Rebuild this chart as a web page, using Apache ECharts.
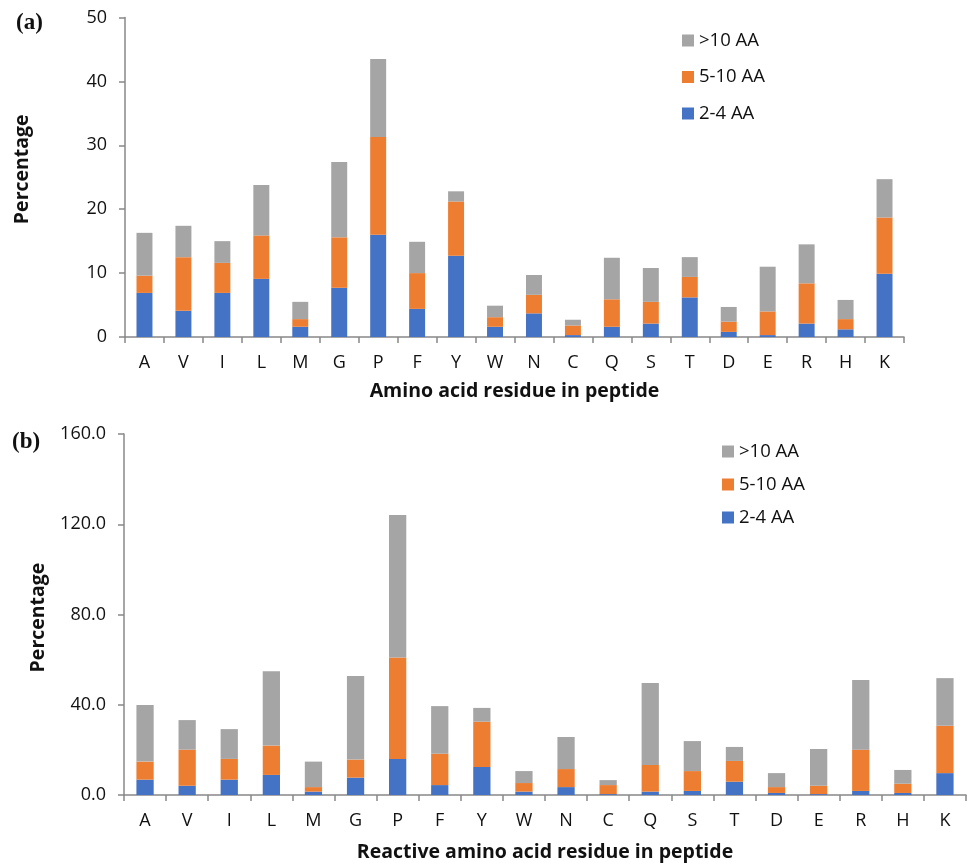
<!DOCTYPE html>
<html>
<head>
<meta charset="utf-8">
<script src="https://cdn.jsdelivr.net/npm/echarts@6/dist/echarts.min.js"></script>
<style>
html,body{margin:0;padding:0;background:#fff;}
#chart{width:969px;height:863px;}
</style>
</head>
<body>
<div id="chart"></div>
<script>
const categories = ['A','V','I','L','M','G','P','F','Y','W','N','C','Q','S','T','D','E','R','H','K'];
const seriesNames = ['2-4 AA','5-10 AA','>10 AA'];
const legendOrder = ['>10 AA','5-10 AA','2-4 AA'];
// Panel (a): segment heights
const aShort = [6.9,4.1,6.9,9.1,1.6,7.7,16.0,4.4,12.7,1.6,3.7,0.3,1.6,2.1,6.2,0.8,0.3,2.1,1.2,9.9];
const aMid   = [2.7,8.4,4.7,6.8,1.2,7.9,15.3,5.6,8.5,1.5,2.9,1.5,4.3,3.4,3.2,1.6,3.7,6.3,1.6,8.8];
const aLong  = [6.7,4.9,3.4,7.9,2.7,11.8,12.2,4.9,1.6,1.8,3.1,0.9,6.5,5.3,3.1,2.3,7.0,6.1,3.0,6.0];
// Panel (b): segment heights
const bShort = [6.8,4.1,6.8,8.9,1.5,7.7,16.0,4.4,12.4,1.5,3.5,0.4,1.5,1.8,5.9,0.9,0.4,1.8,0.9,9.7];
const bMid   = [8.0,16.0,9.2,13.0,2.0,8.0,44.9,13.9,20.1,3.8,8.0,4.0,11.8,8.8,9.2,2.6,3.7,18.3,4.1,21.0];
const bLong  = [25.1,13.1,13.2,33.0,11.3,37.0,63.2,21.1,6.1,5.3,14.2,2.2,36.3,13.3,6.2,6.2,16.3,30.9,6.1,21.1];
const colors = ['#4472C4','#ED7D31','#A5A5A5'];

const FONT = 'Open Sans';
const TXT = '#111';
const AXC = '#888888';

function xAx(gridIndex, name, gap){
  return {
    type:'category', gridIndex, data:categories,
    axisLine:{lineStyle:{color:AXC,width:1.5}},
    axisTick:{show:true,length:6,lineStyle:{color:AXC,width:1.5}},
    axisLabel:{color:TXT,fontFamily:FONT,fontSize:18,margin:17},
    name, nameLocation:'middle', nameGap:gap,
    nameTextStyle:{color:TXT,fontFamily:FONT,fontSize:19.5,fontWeight:'bold',verticalAlign:'top'}
  };
}
function yAx(gridIndex, max, interval, fmt, gap, pad){
  return {
    type:'value', gridIndex, min:0, max, interval,
    splitLine:{show:false},
    axisLine:{show:true,lineStyle:{color:AXC,width:1.5}},
    axisTick:{show:true,length:6,lineStyle:{color:AXC,width:1.5}},
    axisLabel:{color:TXT,fontFamily:FONT,fontSize:18,margin:18,formatter:fmt},
    name:'Percentage', nameLocation:'middle', nameGap:gap,
    nameTextStyle:{color:TXT,fontFamily:FONT,fontSize:19.5,fontWeight:'bold',padding:pad}
  };
}
function mk(data, idx, axisIdx, stack){
  return {
    name: seriesNames[idx], type:'bar', stack, xAxisIndex:axisIdx, yAxisIndex:axisIdx,
    data, barWidth:'41%', itemStyle:{color:colors[idx]}
  };
}
const chart = echarts.init(document.getElementById('chart'), null, {renderer:'canvas'});
chart.setOption({
  animation:false,
  backgroundColor:'#fff',
  grid:[
    {left:125, top:17.5, right:65, height:319.5},
    {left:124, top:434, right:3, height:361}
  ],
  xAxis:[xAx(0,'Amino acid residue in peptide',44), xAx(1,'Reactive amino acid residue in peptide',47)],
  yAxis:[yAx(0,50,10,v=>String(v),93,[0,0,0,16]), yAx(1,160,40,v=>v.toFixed(1),76,[0,6,0,0])],
  legend:[
    {data:legendOrder, orient:'vertical', left:677, top:26, itemWidth:12, itemHeight:12, itemGap:17.5, icon:'rect',
     textStyle:{color:TXT,fontFamily:FONT,fontSize:18.5,lineHeight:19}},
    {data:legendOrder, orient:'vertical', left:717, top:437, itemWidth:12, itemHeight:12, itemGap:14, icon:'rect',
     textStyle:{color:TXT,fontFamily:FONT,fontSize:18.5,lineHeight:19}}
  ],
  graphic:[
    {type:'text', left:16, top:12, style:{text:'(a)', font:'bold 23px "Liberation Serif"', fill:'#111'}},
    {type:'text', left:12, top:431, style:{text:'(b)', font:'bold 23px "Liberation Serif"', fill:'#111'}}
  ],
  series:[
    mk(aShort,0,0,'a'), mk(aMid,1,0,'a'), mk(aLong,2,0,'a'),
    mk(bShort,0,1,'b'), mk(bMid,1,1,'b'), mk(bLong,2,1,'b')
  ]
});
</script>
</body>
</html>
